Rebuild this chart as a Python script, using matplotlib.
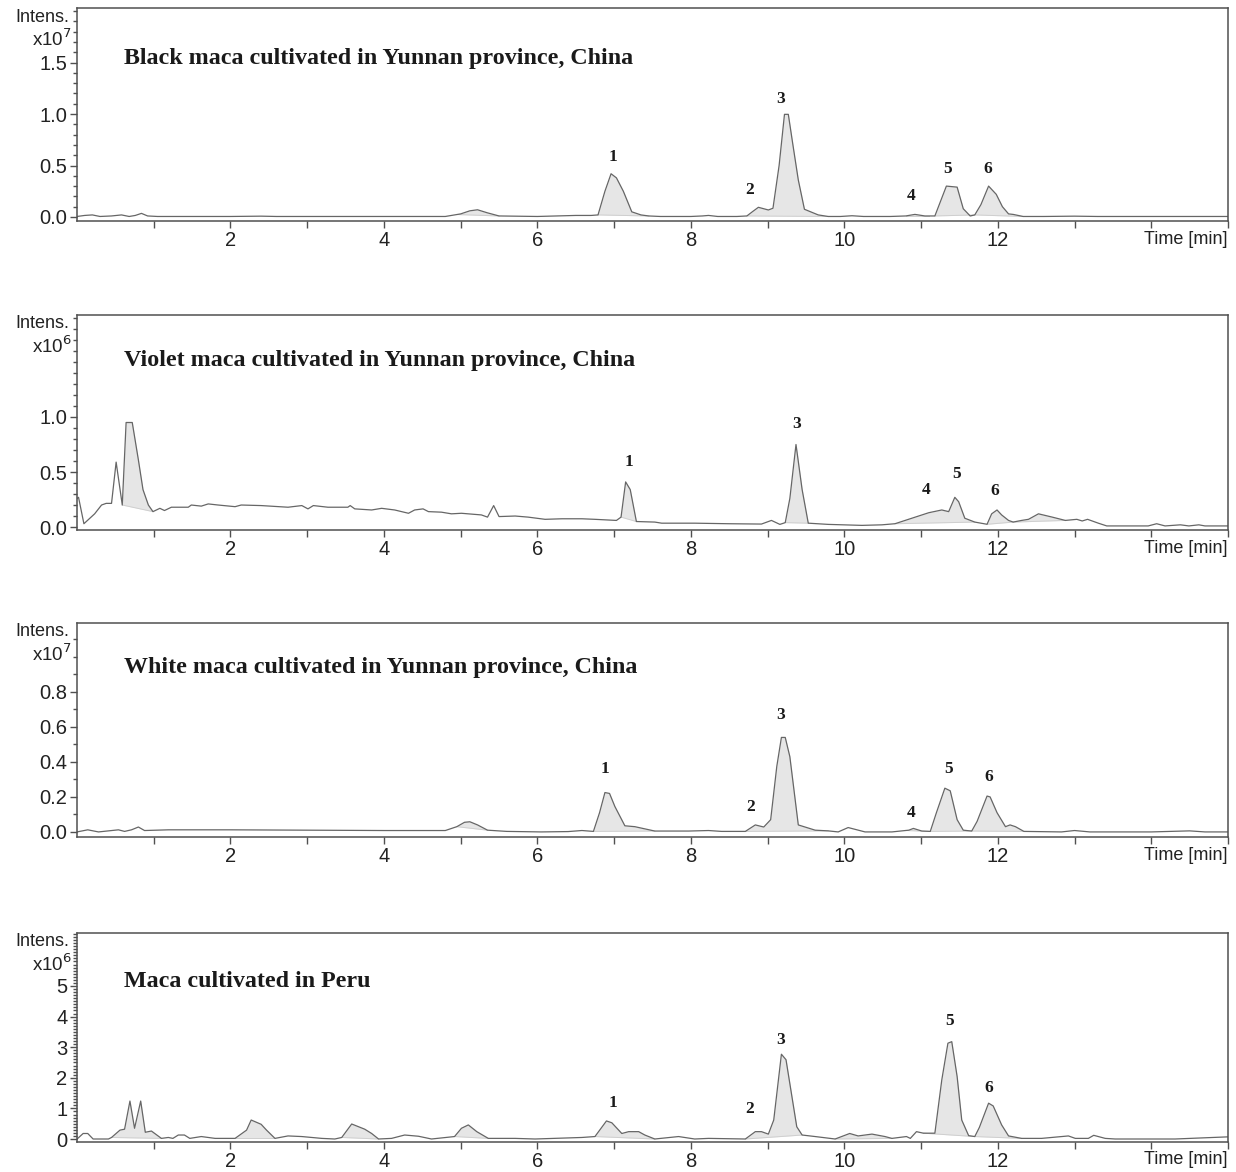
import numpy as np
import matplotlib
matplotlib.use("Agg")
import matplotlib.pyplot as plt
from matplotlib.ticker import FixedLocator, NullFormatter

# ---------------- data ----------------
# Panel 1: Black maca (x10^7)
black_t = [0.00, 0.10, 0.20, 0.30, 0.45, 0.58, 0.68, 0.76, 0.84, 0.92, 1.05, 1.40, 2.00, 2.40, 2.60,
           3.00, 4.00, 4.80, 5.00, 5.12, 5.22, 5.35, 5.50, 6.00, 6.50, 6.70, 6.79, 6.88, 6.96, 7.03,
           7.12, 7.23, 7.35, 7.45, 7.60, 8.00, 8.15, 8.23, 8.35, 8.60, 8.73, 8.80, 8.88, 9.01, 9.07,
           9.15, 9.22, 9.27, 9.33, 9.40, 9.48, 9.66, 9.79, 9.95, 10.10, 10.25, 10.60, 10.80, 10.92,
           11.05, 11.18, 11.33, 11.47, 11.55, 11.64, 11.70, 11.78, 11.88, 11.98, 12.06, 12.14, 12.20,
           12.33, 12.60, 13.00, 13.30, 13.60, 14.00, 14.50, 15.00]
black_i = [0.005, 0.015, 0.020, 0.005, 0.010, 0.020, 0.005, 0.015, 0.035, 0.010, 0.005, 0.005, 0.005, 0.008, 0.005,
           0.005, 0.005, 0.005, 0.030, 0.060, 0.070, 0.040, 0.010, 0.005, 0.015, 0.015, 0.020, 0.250, 0.420, 0.380,
           0.250, 0.050, 0.020, 0.010, 0.005, 0.005, 0.010, 0.015, 0.005, 0.005, 0.010, 0.050, 0.094, 0.068, 0.085,
           0.500, 0.997, 0.997, 0.700, 0.360, 0.075, 0.020, 0.005, 0.005, 0.012, 0.005, 0.005, 0.010, 0.025,
           0.010, 0.010, 0.300, 0.290, 0.080, 0.010, 0.020, 0.120, 0.300, 0.220, 0.100, 0.030, 0.025,
           0.005, 0.005, 0.008, 0.005, 0.005, 0.005, 0.005, 0.005]
black_fill = [(4.95, 5.50), (6.79, 7.45), (8.73, 9.79), (10.80, 11.10), (11.18, 11.70), (11.70, 12.33)]

# Panel 2: Violet maca (x10^6)
violet_t = [0.00, 0.02, 0.09, 0.23, 0.32, 0.38, 0.45, 0.51, 0.59, 0.64, 0.72, 0.80, 0.86, 0.93, 0.99,
            1.08, 1.14, 1.23, 1.45, 1.49, 1.62, 1.71, 1.84, 2.06, 2.14, 2.40, 2.75, 2.93, 3.01, 3.08,
            3.27, 3.53, 3.56, 3.62, 3.84, 3.97, 4.14, 4.32, 4.40, 4.51, 4.58, 4.75, 4.88, 5.01, 5.27,
            5.35, 5.43, 5.50, 5.71, 5.88, 6.10, 6.32, 6.58, 6.75, 7.03, 7.09, 7.15, 7.21, 7.29, 7.53,
            7.62, 8.05, 8.49, 8.92, 9.05, 9.16, 9.23, 9.29, 9.37, 9.45, 9.53, 9.79, 10.23, 10.49,
            10.66, 10.88, 11.10, 11.27, 11.36, 11.44, 11.49, 11.57, 11.70, 11.86, 11.92, 11.99, 12.05,
            12.14, 12.20, 12.31, 12.40, 12.53, 12.71, 12.88, 13.03, 13.10, 13.17, 13.31, 13.42, 13.96,
            14.07, 14.18, 14.38, 14.49, 14.62, 14.70, 15.00]
violet_i = [0.26, 0.27, 0.03, 0.12, 0.20, 0.215, 0.215, 0.59, 0.20, 0.95, 0.95, 0.61, 0.34, 0.20, 0.14,
            0.17, 0.15, 0.18, 0.18, 0.20, 0.19, 0.21, 0.20, 0.185, 0.20, 0.195, 0.18, 0.195, 0.165, 0.195,
            0.18, 0.18, 0.195, 0.165, 0.155, 0.17, 0.155, 0.125, 0.155, 0.165, 0.14, 0.135, 0.12, 0.125, 0.11,
            0.09, 0.195, 0.095, 0.10, 0.09, 0.07, 0.075, 0.075, 0.07, 0.06, 0.09, 0.41, 0.34, 0.05, 0.045,
            0.035, 0.035, 0.03, 0.027, 0.06, 0.024, 0.04, 0.26, 0.75, 0.34, 0.035, 0.024, 0.015, 0.02,
            0.03, 0.08, 0.13, 0.155, 0.14, 0.27, 0.23, 0.08, 0.045, 0.025, 0.12, 0.155, 0.11,
            0.06, 0.045, 0.06, 0.07, 0.12, 0.09, 0.06, 0.07, 0.055, 0.07, 0.035, 0.01, 0.01,
            0.03, 0.01, 0.02, 0.01, 0.02, 0.01, 0.01]
violet_fill = [(0.59, 0.99), (7.09, 7.29), (9.23, 9.53), (10.66, 11.70), (11.86, 12.20), (12.20, 12.88)]

# Panel 3: White maca (x10^7)
white_t = [0.00, 0.14, 0.28, 0.54, 0.62, 0.71, 0.80, 0.88, 1.19, 2.00, 3.00, 4.00, 4.80, 4.95, 5.05,
           5.12, 5.22, 5.35, 5.60, 6.05, 6.40, 6.58, 6.73, 6.81, 6.88, 6.94, 7.01, 7.14, 7.27, 7.53,
           7.97, 8.23, 8.40, 8.71, 8.84, 8.95, 9.04, 9.12, 9.18, 9.23, 9.29, 9.40, 9.62, 9.79, 9.92,
           10.05, 10.27, 10.62, 10.84, 10.90, 11.01, 11.12, 11.20, 11.31, 11.38, 11.47, 11.55, 11.66,
           11.73, 11.86, 11.90, 11.99, 12.10, 12.16, 12.23, 12.34, 12.83, 13.00, 13.20, 14.00, 14.50,
           14.70, 15.00]
white_i = [0.000, 0.012, 0.000, 0.012, 0.003, 0.012, 0.028, 0.008, 0.012, 0.012, 0.010, 0.008, 0.008, 0.030, 0.055,
           0.058, 0.040, 0.010, 0.003, 0.000, 0.002, 0.008, 0.003, 0.110, 0.225, 0.220, 0.145, 0.035, 0.030, 0.005,
           0.005, 0.008, 0.003, 0.003, 0.040, 0.028, 0.070, 0.375, 0.540, 0.540, 0.430, 0.040, 0.010, 0.006, 0.000,
           0.025, 0.000, 0.000, 0.010, 0.020, 0.005, 0.003, 0.110, 0.250, 0.235, 0.070, 0.010, 0.005,
           0.060, 0.205, 0.200, 0.110, 0.030, 0.040, 0.030, 0.003, 0.000, 0.008, 0.000, 0.000, 0.006,
           0.000, 0.000]
white_fill = [(4.95, 5.35), (6.73, 7.53), (8.71, 9.79), (10.80, 11.12), (11.12, 11.66), (11.66, 12.34)]

# Panel 4: Maca cultivated in Peru (x10^6)
peru_t = [0.00, 0.01, 0.08, 0.14, 0.21, 0.41, 0.45, 0.56, 0.62, 0.69, 0.75, 0.83, 0.89, 0.97, 1.10,
          1.19, 1.25, 1.32, 1.40, 1.47, 1.62, 1.80, 2.06, 2.21, 2.27, 2.40, 2.47, 2.58, 2.75, 2.93,
          3.19, 3.36, 3.45, 3.58, 3.75, 3.84, 3.93, 4.10, 4.27, 4.45, 4.62, 4.92, 5.01, 5.10, 5.21,
          5.36, 5.71, 5.97, 6.58, 6.75, 6.90, 6.97, 7.10, 7.19, 7.32, 7.40, 7.53, 7.84, 8.05, 8.23,
          8.71, 8.84, 8.92, 9.01, 9.08, 9.18, 9.24, 9.38, 9.45, 9.62, 9.88, 10.07, 10.18, 10.36, 10.53,
          10.62, 10.81, 10.86, 10.94, 11.03, 11.18, 11.27, 11.35, 11.40, 11.47, 11.53, 11.62, 11.70,
          11.76, 11.88, 11.94, 12.05, 12.14, 12.31, 12.57, 12.92, 13.01, 13.18, 13.25, 13.40, 13.53,
          14.31, 15.00]
peru_i = [0.00, 0.02, 0.18, 0.18, 0.00, 0.00, 0.05, 0.29, 0.32, 1.24, 0.35, 1.24, 0.22, 0.26, 0.02,
          0.05, 0.02, 0.13, 0.13, 0.02, 0.08, 0.02, 0.02, 0.29, 0.62, 0.48, 0.29, 0.02, 0.10, 0.08,
          0.02, 0.00, 0.05, 0.49, 0.32, 0.18, 0.00, 0.02, 0.13, 0.09, 0.00, 0.08, 0.35, 0.46, 0.24,
          0.02, 0.02, 0.00, 0.05, 0.08, 0.59, 0.53, 0.18, 0.24, 0.24, 0.13, 0.00, 0.08, 0.00, 0.02,
          0.00, 0.24, 0.24, 0.16, 0.62, 2.77, 2.59, 0.40, 0.13, 0.08, 0.00, 0.18, 0.10, 0.16, 0.08,
          0.02, 0.08, 0.02, 0.24, 0.19, 0.19, 1.93, 3.13, 3.18, 2.04, 0.62, 0.11, 0.08,
          0.38, 1.17, 1.08, 0.46, 0.10, 0.02, 0.02, 0.10, 0.02, 0.02, 0.12, 0.02, 0.00,
          0.00, 0.07]
peru_fill = [(0.45, 1.10), (2.06, 2.58), (3.45, 3.93), (4.92, 5.36), (6.75, 7.53), (8.71, 9.45),
             (9.88, 10.62), (11.03, 11.70), (11.70, 12.31)]

titles = ["Black maca cultivated in Yunnan province, China",
          "Violet maca cultivated in Yunnan province, China",
          "White maca cultivated in Yunnan province, China",
          "Maca cultivated in Peru"]
exponents = ["7", "6", "7", "6"]

# peak label anchor positions (time, intensity)
black_labels = [("1", 6.98, 0.58), ("2", 8.77, 0.26), ("3", 9.17, 1.15), ("4", 10.87, 0.20),
                ("5", 11.35, 0.47), ("6", 11.87, 0.47)]
violet_labels = [("1", 7.19, 0.59), ("3", 9.38, 0.94), ("4", 11.06, 0.34), ("5", 11.46, 0.48),
                 ("6", 11.96, 0.33)]
white_labels = [("1", 6.88, 0.36), ("2", 8.78, 0.143), ("3", 9.17, 0.667), ("4", 10.87, 0.109),
                ("5", 11.36, 0.36), ("6", 11.88, 0.314)]
peru_labels = [("1", 6.98, 1.18), ("2", 8.77, 0.98), ("3", 9.17, 3.24), ("5", 11.37, 3.86),
               ("6", 11.88, 1.67)]

# ---------------- layout ----------------
W, H = 1236, 1172
fig = plt.figure(figsize=(W / 100, H / 100), dpi=100)

panels = [
    dict(t=black_t, i=black_i, fill=black_fill, labels=black_labels, top=8, bot=221, ty=0.762,
         ylim=(-0.039, 2.03), major=[0.0, 0.5, 1.0, 1.5], fmt="{:.1f}", minor=0.1),
    dict(t=violet_t, i=violet_i, fill=violet_fill, labels=violet_labels, top=315, bot=530, ty=0.79,
         ylim=(-0.027, 1.927), major=[0.0, 0.5, 1.0], fmt="{:.1f}", minor=0.1),
    dict(t=white_t, i=white_i, fill=white_fill, labels=white_labels, top=623, bot=837, ty=0.79,
         ylim=(-0.029, 1.194), major=[0.0, 0.2, 0.4, 0.6, 0.8], fmt="{:.1f}", minor=0.1),
    dict(t=peru_t, i=peru_i, fill=peru_fill, labels=peru_labels, top=933, bot=1142, ty=0.768,
         ylim=(-0.098, 6.73), major=[0, 1, 2, 3, 4, 5], fmt="{:d}", minor=0.1),
]

LINE = "#666666"
FILL = "#e6e6e6"
SPINE = "#505050"
left_px, right_px = 77, 1228

for k, p in enumerate(panels):
    ax = fig.add_axes([left_px / W, 1 - p["bot"] / H, (right_px - left_px) / W, (p["bot"] - p["top"]) / H])
    t = np.array(p["t"], dtype=float)
    y = np.array(p["i"], dtype=float)

    for (a, b) in p["fill"]:
        m = (t > a) & (t < b)
        ya, yb = np.interp(a, t, y), np.interp(b, t, y)
        xs = np.concatenate([[a], t[m], [b]])
        ys = np.concatenate([[ya], y[m], [yb]])
        base = ya + (yb - ya) * (xs - a) / (b - a)
        ax.fill_between(xs, base, ys, color=FILL, lw=0, zorder=1)
        ax.plot([a, b], [ya, yb], color="#cfcfcf", lw=0.7, zorder=1.5)

    ax.plot(t, y, color=LINE, lw=0.9, zorder=2)

    ax.set_xlim(0.0, 15.0)
    ax.set_ylim(*p["ylim"])

    for s in ax.spines.values():
        s.set_color(SPINE)
        s.set_linewidth(1.1)

    ax.xaxis.set_major_locator(FixedLocator([2, 4, 6, 8, 10, 12, 14]))
    ax.set_xticklabels(["2", "4", "6", "8", "10", "12", ""])
    ax.xaxis.set_minor_locator(FixedLocator([1, 3, 5, 7, 9, 11, 13, 15]))
    ax.yaxis.set_major_locator(FixedLocator(p["major"]))
    ax.set_yticklabels([p["fmt"].format(v) for v in p["major"]])
    nmin = int(np.floor(p["ylim"][1] / p["minor"])) + 1
    ax.yaxis.set_minor_locator(FixedLocator([j * p["minor"] for j in range(nmin)]))
    ax.yaxis.set_minor_formatter(NullFormatter())

    ax.tick_params(axis="both", which="both", direction="out", color=SPINE,
                   labelsize=14.5, labelcolor="#222222", width=1.0,
                   labelfontfamily="Liberation Sans")
    ax.tick_params(axis="x", which="both", length=5, pad=2)
    ax.tick_params(axis="y", which="major", length=5, pad=2)
    ax.tick_params(axis="y", which="minor", length=3)
    ax.tick_params(top=False, right=False)

    ax.text(1.0, -0.045, "Time [min]", transform=ax.transAxes, ha="right", va="top",
            fontsize=13, family="Liberation Sans", color="#222222")

    ax.text(0.041, p["ty"], titles[k], transform=ax.transAxes, ha="left", va="center",
            fontsize=17.3, family="Liberation Serif", fontweight="bold", color="#1a1a1a")

    for (lab, lx, ly) in p["labels"]:
        ax.text(lx, ly, lab, ha="center", va="center", fontsize=12.5,
                family="Liberation Serif", fontweight="bold", color="#1a1a1a")

    # axis header ("Intens." / "x10^n")
    fig.text(69 / W, 1 - (p["top"] + 9) / H, "Intens.", ha="right", va="center",
             fontsize=13, family="Liberation Sans", color="#222222")
    fig.text(72 / W, 1 - (p["top"] + 31) / H, r"x10$^{%s}$" % exponents[k], ha="right", va="center",
             fontsize=13.5, family="Liberation Sans", color="#222222")

fig.savefig("out.png", dpi=100, facecolor="white")
